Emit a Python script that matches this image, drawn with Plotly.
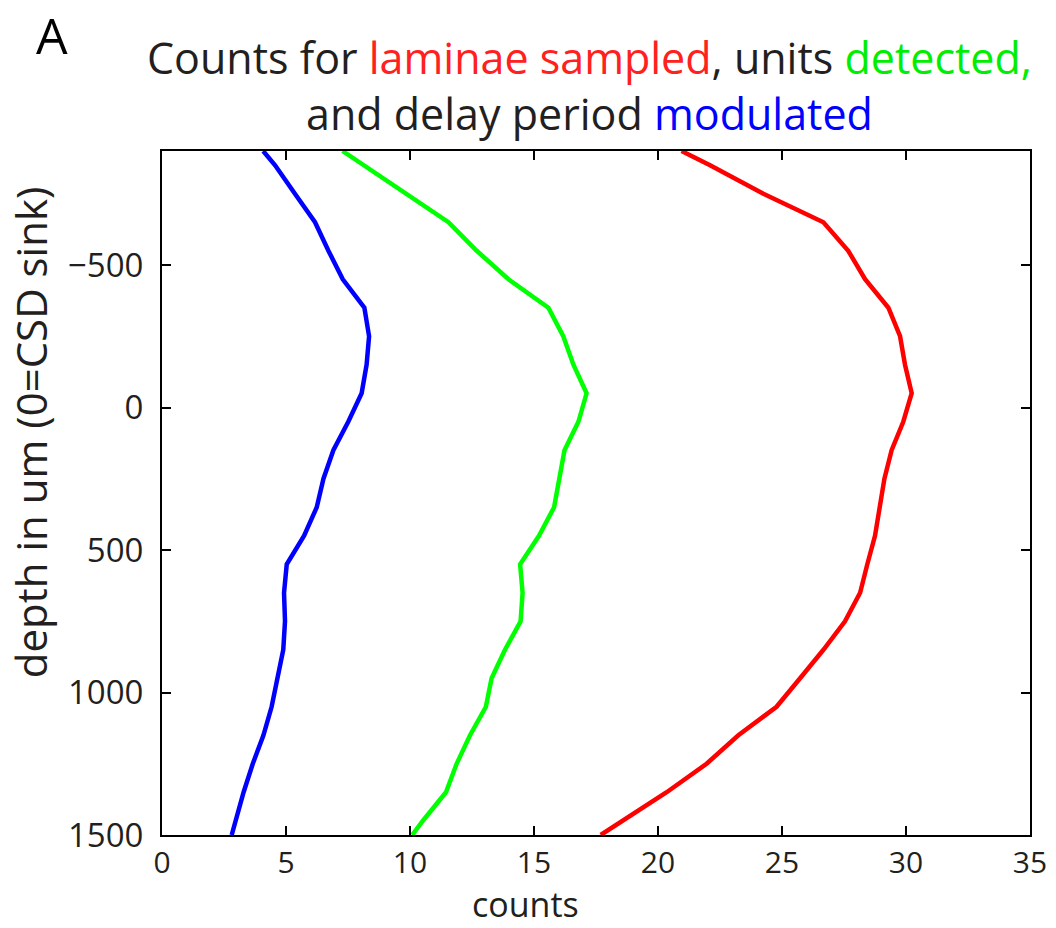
import plotly.graph_objects as go

# depth of each laminar bin (um, 0 = CSD sink)
depth = [-900, -850, -750, -650, -550, -450, -350, -250, -150, -50,
         50, 150, 250, 350, 450, 550, 650, 750, 850, 950,
         1050, 1150, 1250, 1350, 1450, 1500]

laminae_sampled = [20.95, 22.10, 24.25, 26.67, 27.67, 28.35, 29.29, 29.76, 29.96, 30.23,
                   29.89, 29.42, 29.13, 28.95, 28.75, 28.44, 28.15, 27.54, 26.67, 25.73,
                   24.78, 23.24, 21.96, 20.35, 18.55, 17.69]

units_detected = [7.28, 8.13, 9.85, 11.55, 12.69, 13.97, 15.58, 16.18, 16.59, 17.12,
                  16.79, 16.23, 16.02, 15.81, 15.20, 14.44, 14.54, 14.46, 13.83, 13.29,
                  13.06, 12.42, 11.88, 11.45, 10.52, 10.09]

delay_modulated = [4.08, 4.56, 5.36, 6.17, 6.71, 7.29, 8.16, 8.35, 8.25, 8.05,
                   7.51, 6.91, 6.51, 6.24, 5.73, 5.03, 4.92, 4.96, 4.89, 4.65,
                   4.42, 4.09, 3.66, 3.29, 2.96, 2.81]

x_ticks = [0, 5, 10, 15, 20, 25, 30, 35]
y_ticks = [-500, 0, 500, 1000, 1500]

FONT = "Open Sans"
INK = "#231f20"

fig = go.Figure()
for vals, col in [(laminae_sampled, "#ff0000"),
                  (units_detected, "#00ff00"),
                  (delay_modulated, "#0000ff")]:
    fig.add_trace(go.Scatter(x=vals, y=depth, mode="lines",
                             line=dict(color=col, width=4.5),
                             showlegend=False, hoverinfo="skip"))

axis_common = dict(showline=True, linecolor="black", linewidth=2, mirror="ticks",
                   ticks="inside", ticklen=9, tickwidth=1.5, tickcolor="black",
                   showgrid=False, zeroline=False, automargin=False)

fig.update_xaxes(range=[0, 35], tickvals=x_ticks, ticktext=[str(v) for v in x_ticks],
                 tickfont=dict(family=FONT, size=30, color=INK), **axis_common)
fig.update_yaxes(range=[1500, -900], tickvals=y_ticks,
                 ticktext=["\u2212500", "0", "500", "1000", "1500"],
                 tickfont=dict(family=FONT, size=33, color=INK),
                 ticklabelstandoff=10, **axis_common)

# axis labels
fig.add_annotation(text="counts", xref="paper", yref="paper", x=0.419, y=-0.1345,
                   xanchor="center", yanchor="bottom", yshift=-2, showarrow=False,
                   font=dict(family=FONT, size=34, color=INK))
fig.add_annotation(text="depth in um (0=CSD sink)", xref="paper", yref="paper",
                   x=-0.152, y=0.589, xanchor="center", yanchor="middle",
                   textangle=-90, showarrow=False,
                   font=dict(family=FONT, size=42, color=INK))

title_text = ("Counts for <span style='color:#ff2020'>laminae sampled</span>, units "
              "<span style='color:#00ee00'>detected,</span><br>"
              "and delay period <span style='color:#0000ff'>modulated</span>")

fig.add_annotation(text=title_text, xref="paper", yref="paper", x=0.493, y=1.0,
                   xanchor="center", yanchor="bottom", yshift=6, showarrow=False,
                   align="center", font=dict(family=FONT, size=43, color=INK))
fig.add_annotation(text="A", xref="paper", yref="paper", x=-0.147, y=1.0,
                   xanchor="left", yanchor="bottom", yshift=80, showarrow=False,
                   font=dict(family=FONT, size=50, color="black"))

fig.update_layout(width=1056, height=928, plot_bgcolor="white", paper_bgcolor="white",
                  margin=dict(l=162, r=26, t=151, b=93))

fig.write_html("out.html")
